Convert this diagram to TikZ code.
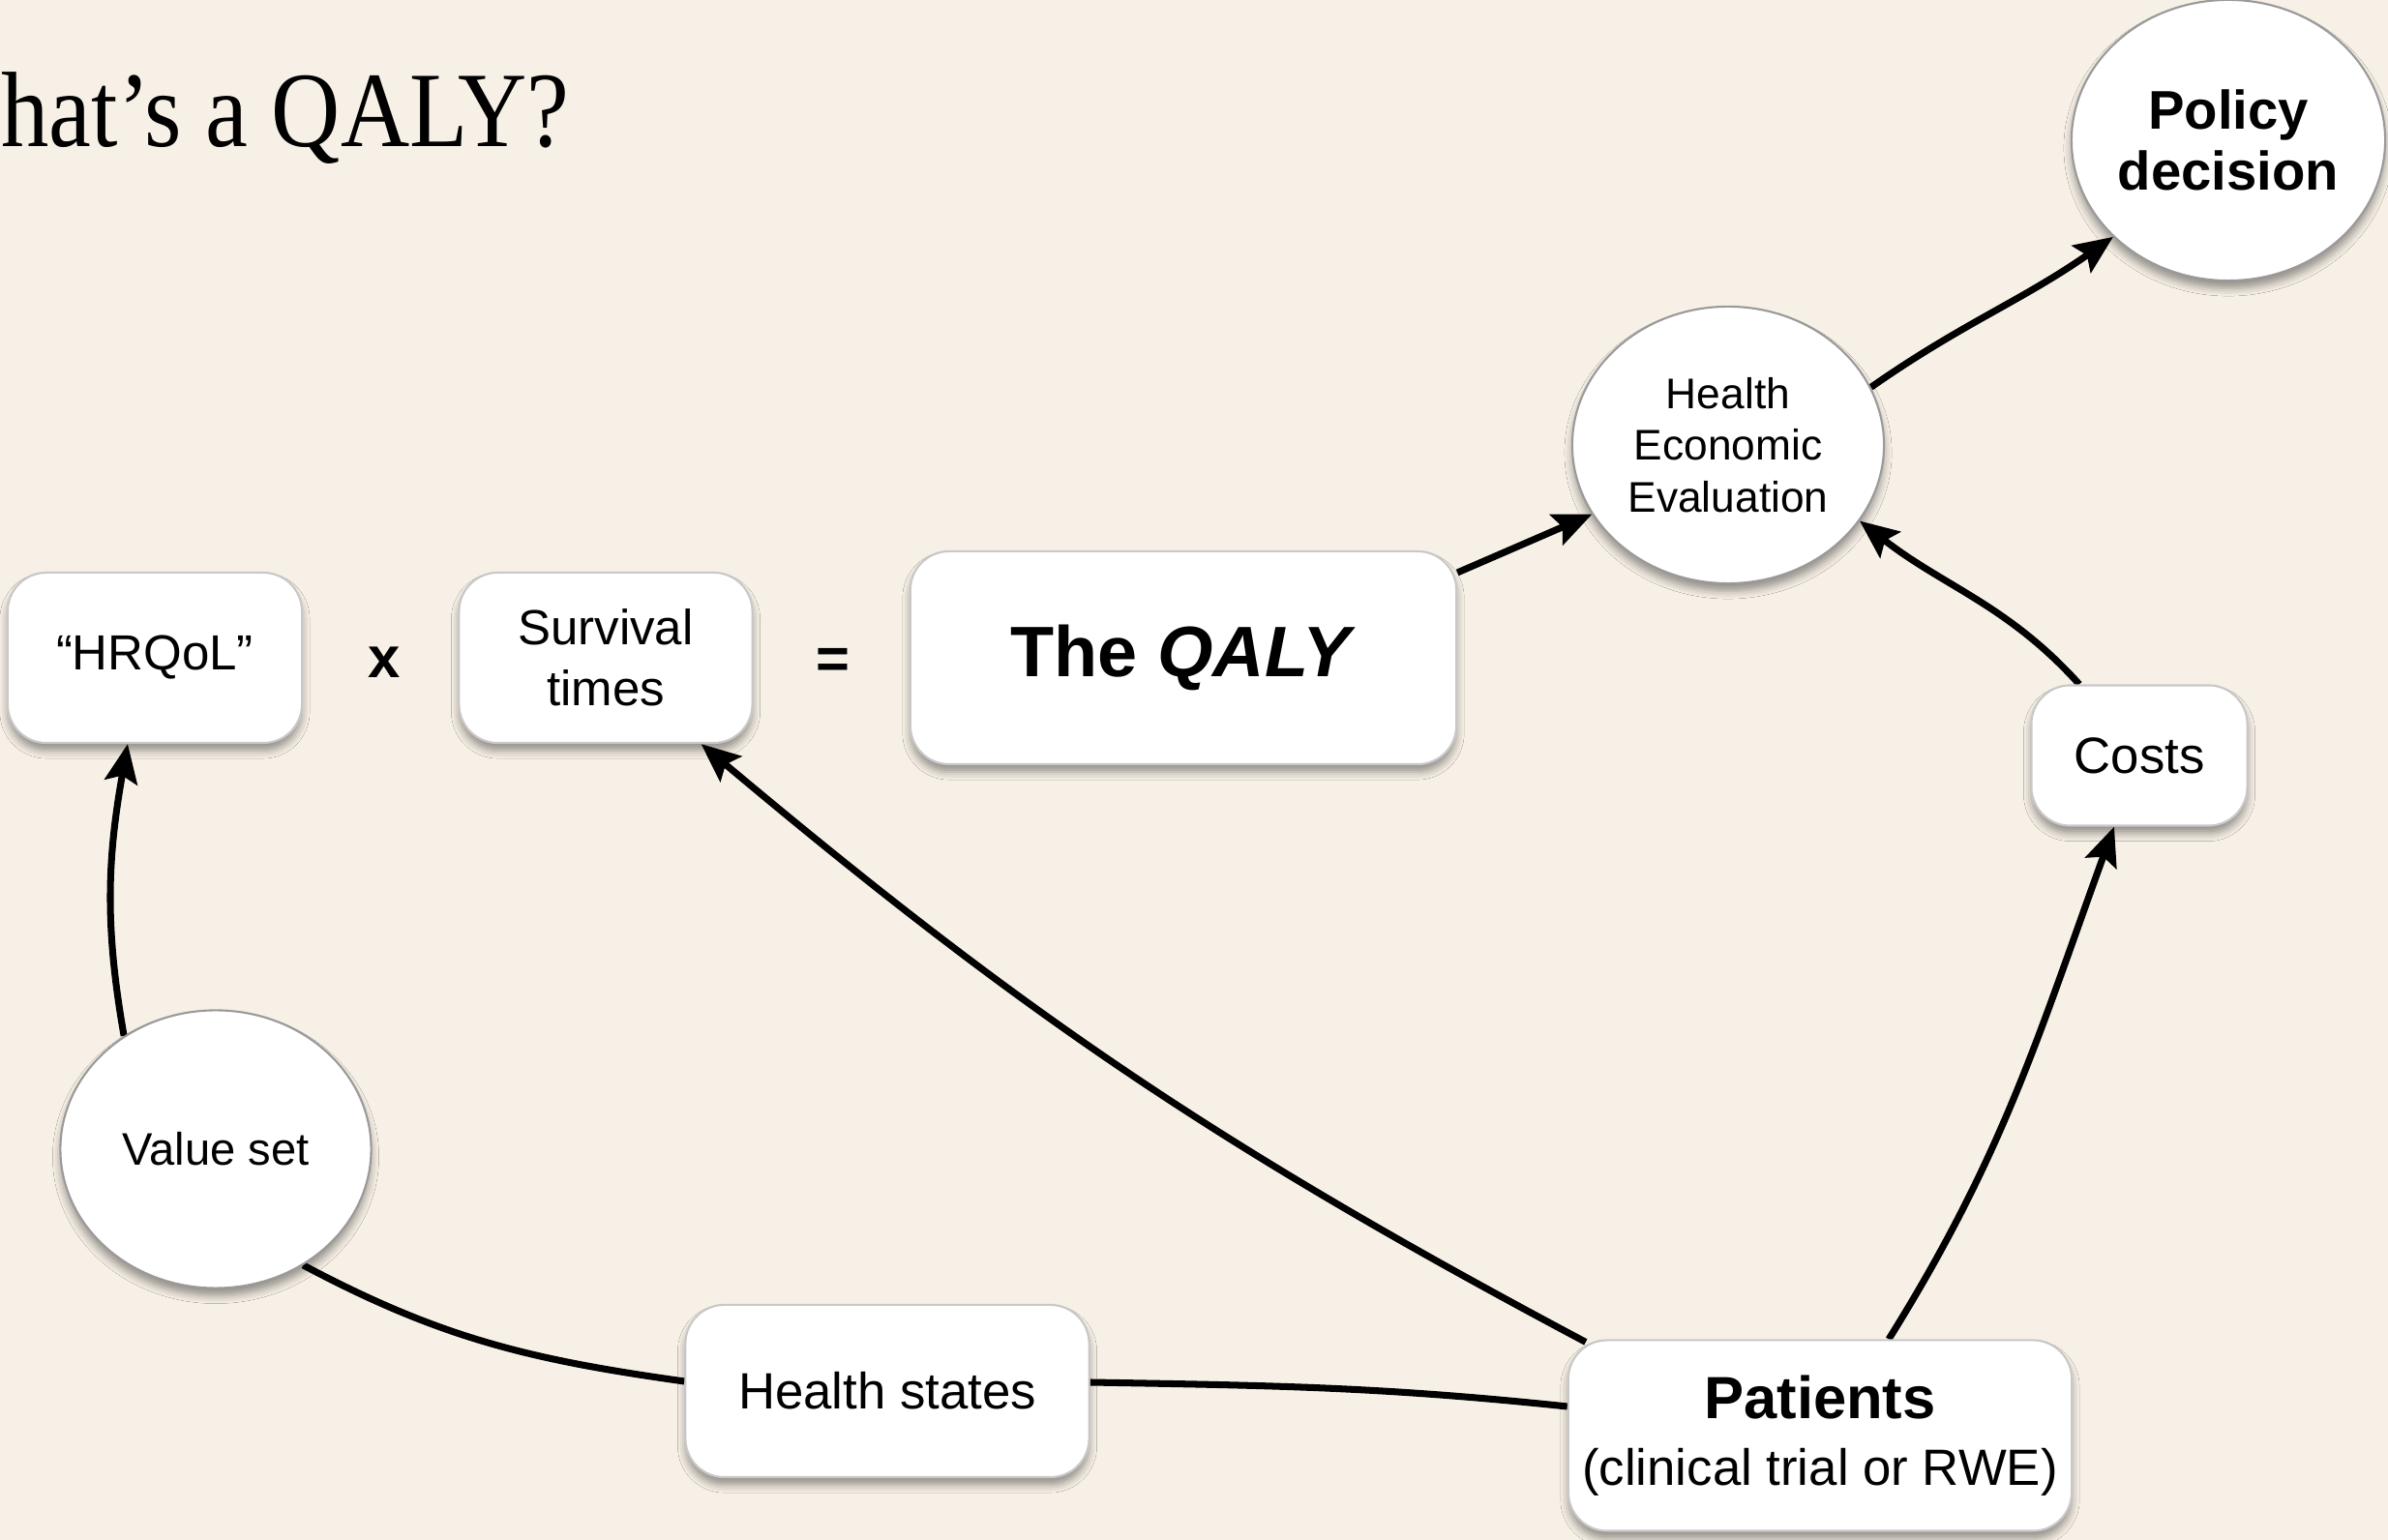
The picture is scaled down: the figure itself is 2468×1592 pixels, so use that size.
\documentclass[tikz,border=0pt]{standalone}
\usepackage{fontspec}
\usepackage{graphicx}
\setmainfont{Liberation Sans}
\newfontfamily\titlefont{Liberation Serif}
\usetikzlibrary{shapes.geometric,arrows.meta,shadows.blur,backgrounds}
\definecolor{bg}{HTML}{F7F0E6}
\definecolor{edgegray}{HTML}{C8C8C8}
\definecolor{ellgray}{HTML}{9A9A9A}
\begin{document}
\begin{tikzpicture}[x=0.01cm,y=0.01cm,
  softshadow/.style={blur shadow={shadow xshift=0cm, shadow yshift=-0.08cm, shadow blur radius=0.08cm, shadow opacity=40}},
  card/.style={draw=edgegray, line width=0.6pt, fill=white, rounded corners=0.4cm, inner sep=0pt, align=center, softshadow},
  bubble/.style={ellipse, draw=ellgray, line width=0.6pt, fill=white, inner sep=0pt, align=center, softshadow},
  link/.style={line width=2pt, -{Stealth[length=0.4cm,width=0.34cm,inset=0.07cm]}},
  plainlink/.style={line width=2pt},
  sign/.style={font=\bfseries\fontsize{17}{20}\selectfont}
]
\useasboundingbox (0,0) rectangle (2468,-1592);

% nodes
\node[anchor=base west, font=\titlefont\fontsize{31.5}{36}\selectfont, inner sep=0pt] (title) at (1,-152) {\scalebox{0.89}[1]{hat’s a QALY?}};

\node[card, minimum width=3.04cm, minimum height=1.76cm, font=\fontsize{14.5}{17.9}\selectfont] (hrqol) at (160,-680) {“HRQoL”};
\node[sign] (times) at (397,-685) {x};
\node[card, minimum width=3.03cm, minimum height=1.76cm, font=\fontsize{14.5}{17.9}\selectfont] (surv) at (626,-680) {Survival\\times};
\node[sign] (eq) at (861,-686) {=};
\node[card, minimum width=5.64cm, minimum height=2.2cm, font=\bfseries\fontsize{21}{25}\selectfont] (qaly) at (1223,-680) {The \textit{QALY}};

\node[bubble, minimum width=3.22cm, minimum height=2.86cm, font=\fontsize{12.6}{15.2}\selectfont] (hee) at (1786,-460) {Health\\Economic\\Evaluation};
\node[bubble, minimum width=3.24cm, minimum height=2.9cm, font=\bfseries\fontsize{16}{17.9}\selectfont] (policy) at (2303,-145) {Policy\\decision};
\node[card, minimum width=2.23cm, minimum height=1.45cm, font=\fontsize{15}{18}\selectfont] (costs) at (2211,-781) {Costs};

\node[bubble, minimum width=3.21cm, minimum height=2.87cm, font=\fontsize{13.4}{16}\selectfont] (vs) at (223,-1188) {Value set};
\node[card, minimum width=4.17cm, minimum height=1.78cm, font=\fontsize{15}{18}\selectfont] (hs) at (917,-1438) {Health states};
\node[card, minimum width=5.2cm, minimum height=1.97cm, font=\fontsize{15}{19.7}\selectfont] (pat) at (1881,-1484) {{\bfseries\fontsize{17.5}{19.7}\selectfont Patients}\\(clinical trial or RWE)};

\begin{scope}[on background layer]
\fill[bg] (0,0) rectangle (2468,-1592);
\draw[link] (vs.129) to[out=100,in=-100] ([xshift=-0.28cm]hrqol.south);
\draw[link] ([xshift=0.19cm,yshift=-0.03cm]pat.north west) to[out=152,in=-40] ([xshift=-0.54cm]surv.south east);
\draw[plainlink] (vs.-53) to[out=-28,in=172] ([yshift=0.1cm]hs.west);
\draw[plainlink] ([yshift=0.09cm]hs.east) to[out=-1,in=174] ([yshift=0.3cm]pat.west);
\draw[link] ([xshift=0.71cm]pat.north) to[out=58,in=-110] ([xshift=-0.26cm]costs.south);
\draw[link] ([xshift=-0.62cm]costs.north) to[out=132,in=-38] (hee.-30);
\draw[link] ([yshift=0.88cm]qaly.east) -- (hee.207);
\draw[link] (hee.22) to[out=35,in=-145] (policy.220);
\end{scope}
\end{tikzpicture}
\end{document}
